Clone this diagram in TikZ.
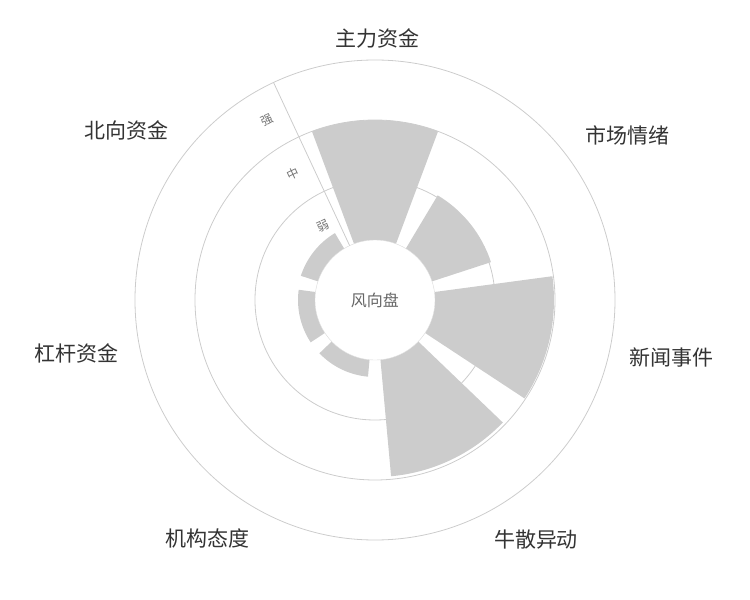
\documentclass[tikz,border=0pt]{standalone}
\usepackage{fontspec}
\setmainfont{Noto Sans CJK SC}
\usetikzlibrary{positioning}

\begin{document}
\begin{tikzpicture}[
    ring/.style={draw=black!20, line width=0.8pt},
    bar/.style={fill=black!20},
    catlabel/.style={text=black!80, font=\fontsize{21}{24}\selectfont},
    levellabel/.style={text=black!55, font=\fontsize{12}{14}\selectfont, rotate=25}
]
    \useasboundingbox (-375pt,-300pt) rectangle (375pt,300pt);

    % Rings
    \foreach \r in {120, 180, 240} {
        \draw[ring] (0,0) circle (\r pt);
    }

    % Bars
    \foreach \v [count=\i from 0] in {180, 122, 179, 177, 77, 77, 78} {
        \pgfmathsetmacro{\c}{90 - 51.4286*\i}
        \pgfmathsetmacro{\a}{\c + 20.5}
        \pgfmathsetmacro{\b}{\c - 20.5}
        \fill[bar] (\a:60pt) arc[start angle=\a, end angle=\b, radius=60pt]
            -- (\b:\v pt) arc[start angle=\b, end angle=\a, radius=\v pt] -- cycle;
    }

    % Center
    \node[circle, fill=white, draw=black!15, minimum size=120pt] (hub) at (0,0) {};
    \node[text=black!60, font=\fontsize{16}{18}\selectfont] (hubtext) at (hub) {风向盘};

    % Level axis
    \coordinate (axisin) at (115:60pt);
    \coordinate (axisout) at (115:240pt);
    \draw[draw=black!20, line width=0.8pt] (axisin) -- (axisout);
    \node[levellabel] (weak) at (125:90pt) {弱};
    \node[levellabel] (mid) at (123:151pt) {中};
    \node[levellabel] (strong) at (121:210pt) {强};

    % Category labels
    \node[catlabel] (main) at (3pt,262pt) {主力资金};
    \node[catlabel] (mood) at (252pt,165pt) {市场情绪};
    \node[catlabel] (news) at (296pt,-58pt) {新闻事件};
    \node[catlabel] (bull) at (161pt,-240pt) {牛散异动};
    \node[catlabel] (inst) at (-167pt,-238pt) {机构态度};
    \node[catlabel] (lever) at (-298pt,-53pt) {杠杆资金};
    \node[catlabel] (north) at (-248pt,170pt) {北向资金};
\end{tikzpicture}
\end{document}
